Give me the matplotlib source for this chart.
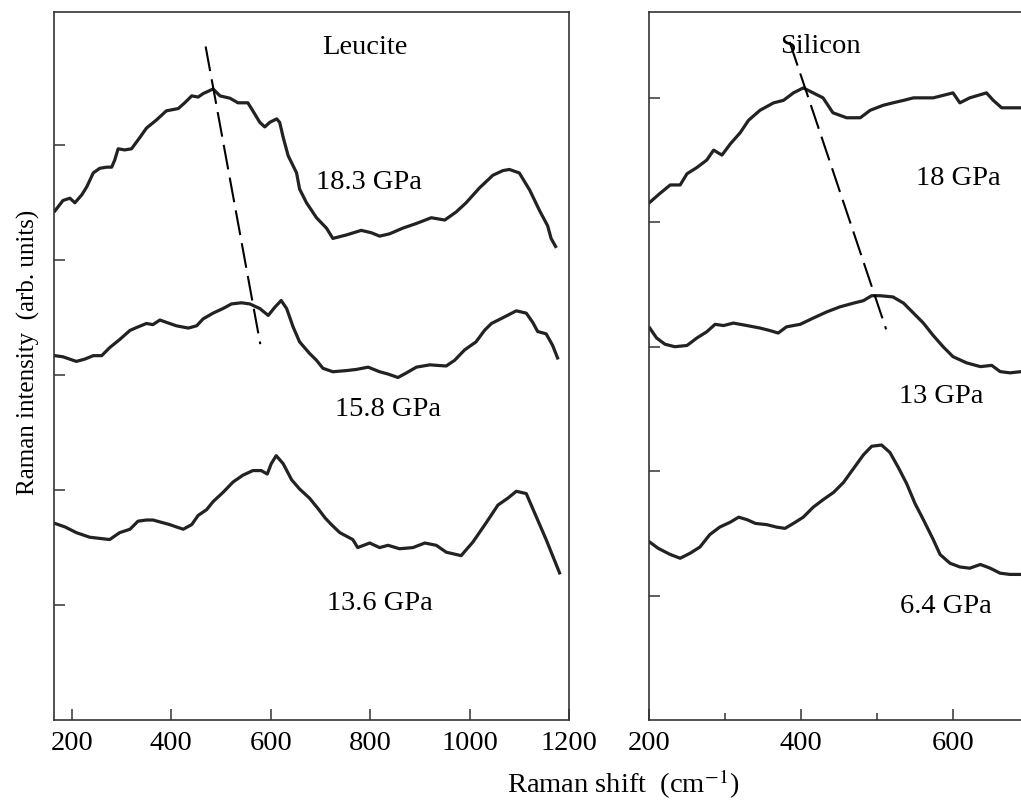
import numpy as np
import matplotlib
matplotlib.use("Agg")
import matplotlib.pyplot as plt

plt.rcParams['font.family'] = ['Liberation Serif', 'DejaVu Serif']
plt.rcParams['mathtext.fontset'] = 'stix'

INK = '#222222'

# ---- Leucite panel (Raman shift in cm^-1, intensity in arb. units) ----
leu_183_x = [166, 182, 196, 206, 220, 230, 243, 256, 270, 280, 286, 293, 306, 320,
             337, 350, 370, 390, 414, 427, 441, 454, 464, 484, 498, 518, 534, 554,
             564, 578, 588, 598, 612, 618, 625, 635, 652, 658, 672, 692, 712, 725,
             752, 782, 802, 819, 839, 866, 893, 923, 950, 973, 993, 1020, 1047,
             1067, 1080, 1100, 1121, 1141, 1157, 1164, 1173]
leu_183_y = [4.43, 4.52, 4.54, 4.50, 4.57, 4.64, 4.76, 4.80, 4.81, 4.81, 4.87, 4.97,
             4.96, 4.97, 5.07, 5.15, 5.22, 5.30, 5.32, 5.37, 5.43, 5.42, 5.45, 5.49,
             5.43, 5.41, 5.37, 5.37, 5.30, 5.20, 5.16, 5.20, 5.23, 5.20, 5.07, 4.91,
             4.76, 4.62, 4.50, 4.37, 4.28, 4.19, 4.22, 4.26, 4.24, 4.21, 4.23, 4.28,
             4.32, 4.37, 4.35, 4.42, 4.50, 4.63, 4.74, 4.78, 4.79, 4.76, 4.61, 4.43,
             4.30, 4.19, 4.12]

leu_158_x = [166, 182, 209, 226, 243, 260, 276, 296, 317, 333, 350, 363, 377, 390,
             410, 434, 451, 464, 484, 504, 521, 541, 558, 578, 595, 608, 621, 632,
             645, 658, 678, 692, 705, 725, 752, 772, 796, 819, 836, 856, 873, 893,
             920, 953, 970, 990, 1013, 1030, 1044, 1067, 1094, 1114, 1127, 1137,
             1154, 1167, 1177]
leu_158_y = [3.17, 3.16, 3.12, 3.14, 3.17, 3.17, 3.24, 3.31, 3.39, 3.42, 3.45, 3.44,
             3.48, 3.46, 3.43, 3.41, 3.43, 3.49, 3.54, 3.58, 3.62, 3.63, 3.62, 3.58,
             3.52, 3.59, 3.65, 3.58, 3.42, 3.29, 3.19, 3.13, 3.06, 3.03, 3.04, 3.05,
             3.07, 3.03, 3.01, 2.98, 3.02, 3.07, 3.09, 3.08, 3.13, 3.22, 3.29, 3.39,
             3.45, 3.50, 3.56, 3.54, 3.46, 3.38, 3.36, 3.26, 3.15]

leu_136_x = [166, 186, 209, 236, 256, 276, 296, 317, 333, 350, 363, 380, 397, 410,
             424, 441, 454, 471, 484, 504, 524, 544, 564, 581, 593, 601, 611, 625,
             642, 658, 678, 695, 709, 722, 739, 765, 775, 799, 819, 836, 859, 886,
             910, 933, 953, 983, 1007, 1034, 1057, 1077, 1094, 1114, 1134, 1154, 1181]
leu_136_y = [1.71, 1.68, 1.63, 1.59, 1.58, 1.57, 1.63, 1.66, 1.73, 1.74, 1.74, 1.72,
             1.70, 1.68, 1.66, 1.70, 1.78, 1.83, 1.90, 1.98, 2.07, 2.13, 2.17, 2.17,
             2.14, 2.23, 2.30, 2.23, 2.09, 2.01, 1.93, 1.84, 1.76, 1.70, 1.63, 1.57,
             1.50, 1.54, 1.50, 1.52, 1.49, 1.50, 1.54, 1.52, 1.46, 1.43, 1.55, 1.72,
             1.87, 1.93, 1.99, 1.97, 1.77, 1.57, 1.28]

leu_dash_x = [469, 579]
leu_dash_y = [5.86, 3.27]

# ---- Silicon panel ----
si_18_x = [201, 214, 228, 241, 250, 263, 276, 285, 296, 307, 320, 331, 346, 364,
           377, 390, 403, 416, 429, 442, 460, 478, 491, 508, 521, 535, 548, 561,
           574, 587, 600, 609, 622, 644, 653, 664, 675, 690, 700]
si_18_y = [4.16, 4.23, 4.30, 4.30, 4.39, 4.44, 4.50, 4.58, 4.54, 4.63, 4.72, 4.82,
           4.90, 4.96, 4.98, 5.04, 5.08, 5.04, 5.00, 4.88, 4.84, 4.84, 4.90, 4.94,
           4.96, 4.98, 5.00, 5.00, 5.00, 5.02, 5.04, 4.96, 5.00, 5.04, 4.98, 4.92,
           4.92, 4.92, 4.91]

si_13_x = [201, 210, 221, 234, 250, 263, 276, 287, 298, 311, 329, 346, 359, 370,
           381, 399, 416, 434, 451, 469, 482, 493, 504, 521, 535, 548, 561, 574,
           587, 600, 618, 636, 651, 662, 675, 690, 700]
si_13_y = [3.15, 3.07, 3.02, 3.00, 3.01, 3.07, 3.12, 3.18, 3.17, 3.19, 3.17, 3.15,
           3.13, 3.11, 3.16, 3.18, 3.23, 3.28, 3.32, 3.35, 3.37, 3.41, 3.41, 3.40,
           3.35, 3.27, 3.19, 3.09, 3.00, 2.92, 2.87, 2.84, 2.85, 2.80, 2.79, 2.80,
           2.79]

si_64_x = [201, 212, 228, 241, 254, 267, 280, 293, 307, 318, 329, 340, 355, 368,
           379, 390, 403, 416, 429, 443, 456, 469, 482, 493, 506, 517, 528, 539,
           550, 561, 574, 583, 596, 609, 622, 636, 649, 662, 675, 690, 700]
si_64_y = [1.43, 1.38, 1.33, 1.30, 1.34, 1.39, 1.49, 1.55, 1.59, 1.63, 1.61, 1.58,
           1.57, 1.55, 1.54, 1.58, 1.63, 1.71, 1.77, 1.83, 1.91, 2.02, 2.13, 2.20,
           2.21, 2.15, 2.03, 1.90, 1.74, 1.61, 1.45, 1.33, 1.26, 1.23, 1.22, 1.25,
           1.22, 1.18, 1.17, 1.17, 1.16]

si_dash_x = [385, 512]
si_dash_y = [5.45, 3.14]

fig = plt.figure(figsize=(10.21, 8.02), dpi=100)
ax1 = fig.add_axes([54 / 1021, 82 / 802, 515 / 1021, 708 / 802])
ax2 = fig.add_axes([649 / 1021, 82 / 802, 380 / 1021, 708 / 802])

lw = 2.3
for x, y in [(leu_183_x, leu_183_y), (leu_158_x, leu_158_y), (leu_136_x, leu_136_y)]:
    ax1.plot(x, y, color=INK, lw=lw, solid_joinstyle='round')
ax1.plot(leu_dash_x, leu_dash_y, color='black', lw=1.5, linestyle=(0, (12, 4)))

for x, y in [(si_18_x, si_18_y), (si_13_x, si_13_y), (si_64_x, si_64_y)]:
    ax2.plot(x, y, color=INK, lw=lw, solid_joinstyle='round')
ax2.plot(si_dash_x, si_dash_y, color='black', lw=1.5, linestyle=(0, (12, 4)))

ax1.set_xlim(164, 1199)
ax1.set_ylim(0, 6.16)
ax1.set_xticks([200, 400, 600, 800, 1000, 1200])
ax1.set_yticks([1, 2, 3, 4, 5])

ax2.set_xlim(200, 700)
ax2.set_ylim(0, 5.69)
ax2.set_xticks([200, 400, 600])
ax2.set_xticks([300, 500], minor=True)
ax2.set_yticks([1, 2, 3, 4, 5])
ax2.spines['right'].set_visible(False)

for ax in (ax1, ax2):
    ax.set_yticklabels([])
    for s in ax.spines.values():
        s.set_linewidth(1.2)
        s.set_color('#333333')
    ax.tick_params(direction='in', length=8, width=1.1, color='#333333',
                   labelsize=20.5, pad=8)
    ax.tick_params(which='minor', direction='in', length=5, width=1.1, color='#333333')
    ax.tick_params(axis='y', left=True, right=False)
    ax.tick_params(axis='x', top=False)

fs = 20.5
ax1.text(789, 5.85, 'Leucite', fontsize=fs, ha='center', va='center')
ax1.text(797, 4.68, '18.3 GPa', fontsize=fs, ha='center', va='center')
ax1.text(835, 2.70, '15.8 GPa', fontsize=fs, ha='center', va='center')
ax1.text(819, 1.01, '13.6 GPa', fontsize=fs, ha='center', va='center')

ax2.text(425, 5.41, 'Silicon', fontsize=fs, ha='center', va='center')
ax2.text(607, 4.35, '18 GPa', fontsize=fs, ha='center', va='center')
ax2.text(584, 2.60, '13 GPa', fontsize=fs, ha='center', va='center')
ax2.text(591, 0.91, '6.4 GPa', fontsize=fs, ha='center', va='center')

fig.text(28 / 1021, 1 - 352 / 802, 'Raman intensity  (arb. units)', fontsize=18,
         rotation=90, ha='center', va='center')
fig.text(623 / 1021, 1 - 784 / 802, r'Raman shift  (cm$^{-1}$)', fontsize=fs,
         ha='center', va='center')

fig.savefig('out.png', dpi=100)
